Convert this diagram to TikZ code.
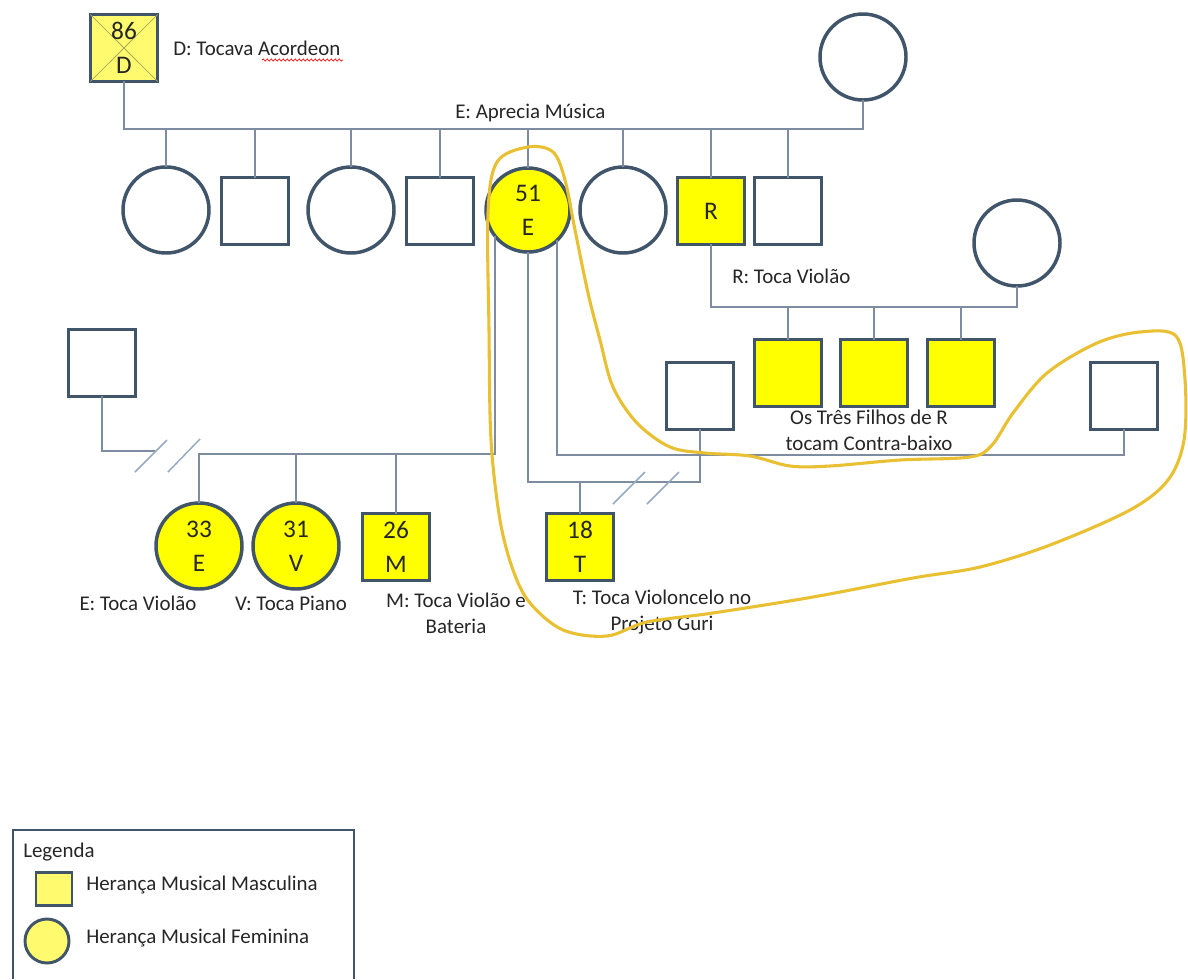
\documentclass[tikz,border=0pt]{standalone}
\usepackage{fontspec}
\setmainfont{Carlito}
\usetikzlibrary{decorations.pathmorphing}
\definecolor{bord}{RGB}{64,84,106}
\definecolor{conncol}{RGB}{125,140,160}
\definecolor{yel}{RGB}{255,255,0}
\definecolor{paleyel}{RGB}{255,250,110}
\definecolor{loopc}{RGB}{232,192,50}
\definecolor{slashc}{RGB}{150,170,195}
\definecolor{xlinec}{RGB}{170,170,90}
\tikzset{
 base/.style={draw=bord, line width=2.6pt, inner sep=0pt, outer sep=0pt, font=\fontsize{19}{25.5}\selectfont, align=center, text=black!85},
 sq/.style={base, rectangle, minimum width=50.25pt, minimum height=50pt},
 ci/.style={base, circle, minimum size=64.5pt},
 filled/.style={fill=yel},
 conn/.style={draw=conncol, line width=1.1pt},
 slashst/.style={draw=slashc, line width=1.1pt},
 lbl/.style={font=\fontsize{15.7}{19.5}\selectfont, inner sep=0pt, align=center, text=black!85},
 loopst/.style={draw=loopc, line width=2.3pt},
}
\begin{document}
\begin{tikzpicture}[x=0.75pt, y=-0.75pt]
\useasboundingbox (0,0) rectangle (1188,979);
\fill[white] (0,0) rectangle (1188,979);

% ---- nodes ----
\node[sq, fill=paleyel] (d) at (124,48) {};
\draw[draw=xlinec, line width=0.6pt] (d.north west) -- (d.south east) (d.north east) -- (d.south west);
\node[base, draw=none, fill=none] (dtxt) at (d) {86\\D};
\node[ci] (w1) at (863,57) {};

\node[ci] (c1) at (166,210) {};
\node[sq] (s1) at (255,211) {};
\node[ci] (c2) at (351,210) {};
\node[sq] (s2) at (440,211) {};
\node[ci, filled, minimum size=63pt] (e51) at (528,210) {51\\E};
\node[ci] (c3) at (623,210) {};
\node[sq, filled] (r) at (711,211) {R};
\node[sq] (s3) at (788,211) {};

\node[ci] (rw) at (1017,243) {};
\node[sq, filled] (rk1) at (788,373) {};
\node[sq, filled] (rk2) at (874,373) {};
\node[sq, filled] (rk3) at (961,373) {};

\node[sq] (ls) at (102,363) {};
\node[sq] (ms) at (700,396) {};
\node[sq] (fs) at (1124,396) {};

\node[ci, filled] (e33) at (199,546) {33\\E};
\node[ci, filled] (v31) at (296,546) {31\\V};
\node[sq, filled] (m26) at (396,547) {26\\M};
\node[sq, filled] (t18) at (580,547) {18\\T};

% ---- connectors ----
\coordinate (tl) at (124,129);
\coordinate (tr) at (863,129);
\draw[conn] (d.south) -- (tl) -- (tr) -- (w1.south);
\foreach \n in {c1,s1,c2,s2,e51,c3,r,s3} \draw[conn] (\n.north) -- (\n.north |- tl);

\coordinate (rl) at (711,307);
\draw[conn] (r.south) -- (rl) -- (rl -| rw.south) -- (rw.south);
\foreach \n in {rk1,rk2,rk3} \draw[conn] (\n.north) -- (\n.north |- rl);

\coordinate (la) at (198,454);
\draw[conn] (e51.218) |- (la);
\foreach \n in {e33,v31,m26} \draw[conn] (\n.north) -- (\n.north |- la);
\coordinate (lb) at (155,451);
\draw[conn] (ls.south) |- (lb);
\draw[slashst] (135,472) -- (167,440);
\draw[slashst] (168,472) -- (200,439);

\coordinate (tb) at (528,482);
\draw[conn] (e51.south) -- (tb) -| (ms.south);
\draw[conn] (t18.north) -- (t18.north |- tb);
\draw[slashst] (613,504) -- (645,472);
\draw[slashst] (647,504) -- (679,472);

\coordinate (fb) at (557,455);
\draw[conn] (e51.314) -- (e51.314 |- fb) -| (fs.south);

% ---- labels ----
\node[lbl, anchor=west] (dl) at (173,48) {D: Tocava Acordeon};
\draw[red, line width=0.5pt, decorate, decoration={snake, amplitude=0.8pt, segment length=3pt}] (262,60) -- (343,60);
\node[lbl, anchor=west] (al) at (455,113) {E: Aprecia Música};
\node[lbl, anchor=west] (rlbl) at (732,276) {R: Toca Violão};
\node[lbl] (osl) at (869,430) {Os Três Filhos de R\\tocam Contra-baixo};
\node[lbl] (el) at (138,603) {E: Toca Violão};
\node[lbl] (vl) at (291,603) {V: Toca Piano};
\node[lbl] (ml) at (456,613) {M: Toca Violão e\\Bateria};
\node[lbl] (tlb) at (662,612) {T: Toca Violoncelo no\\Projeto Guri};

% ---- loop ----
\draw[loopst] plot[smooth cycle, tension=0.55] coordinates {
(491,440) (489,330) (488,213) (497,162) (528,147) (553,152) (565,180) (575,230)
(588,293) (600,340) (613,387) (637,423) (670,447) (705,453) (750,456) (790,466)
(830,466) (900,460) (970,457) (992,445) (1013,413) (1047,373) (1097,343) (1140,332)
(1176,336) (1185,380) (1184,440) (1168,480) (1130,510) (1050,545) (980,567) (913,578)
(813,597) (713,613) (647,622) (607,636) (563,630) (530,603) (513,570) (500,520)};

% ---- legend ----
\draw[draw=bord, line width=2.2pt] (13,979) -- (13,830) -- (354,830) -- (354,979);
\node[lbl, anchor=west] (lg) at (23,852) {Legenda};
\node[sq, fill=paleyel, minimum width=27pt, minimum height=25pt, line width=2.2pt] (lgs) at (54,889) {};
\node[lbl, anchor=west] (lgm) at (86,885) {Herança Musical Masculina};
\node[ci, fill=paleyel, minimum size=33pt, line width=2.2pt] (lgc) at (47,941) {};
\node[lbl, anchor=west] (lgf) at (86,938) {Herança Musical Feminina};
\end{tikzpicture}
\end{document}
